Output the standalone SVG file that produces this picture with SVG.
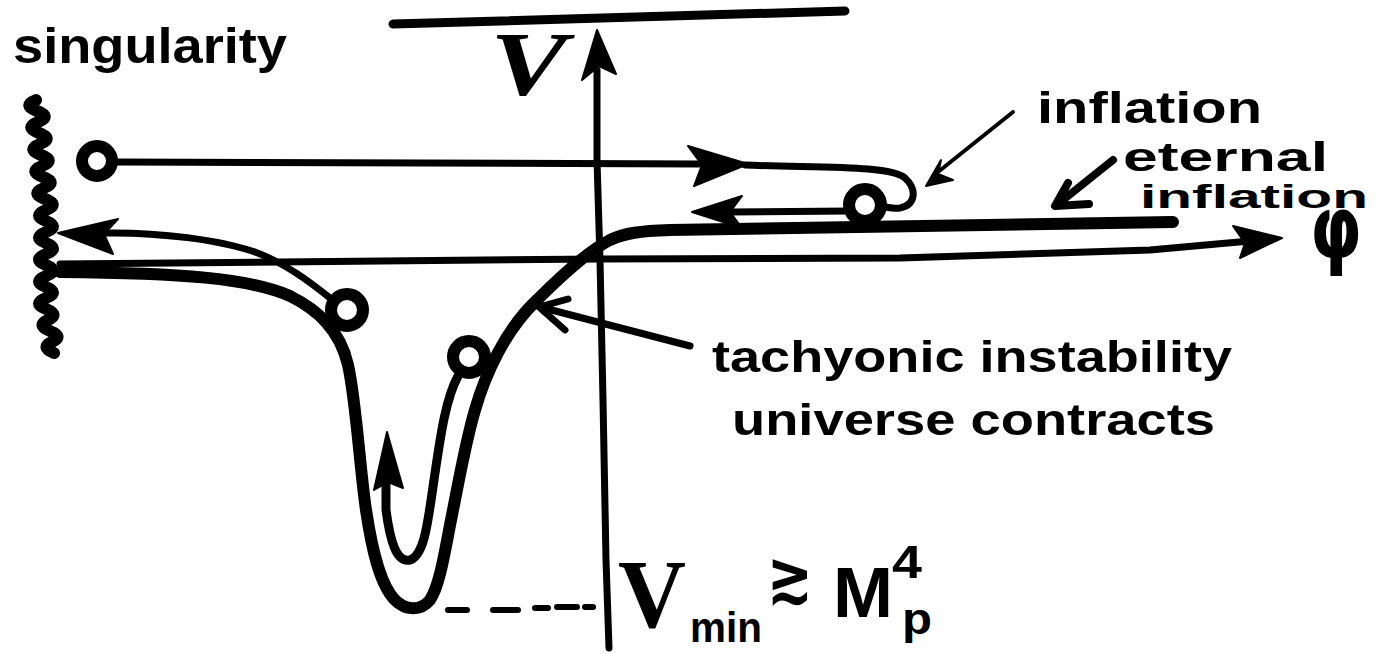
<svg xmlns="http://www.w3.org/2000/svg" width="1383" height="654" viewBox="0 0 1383 654">
<style>
.ln{fill:none;stroke:#000;stroke-linecap:round;stroke-linejoin:round}
.ax{stroke-width:7}
.thick{stroke-width:12}
.thin{stroke-width:7}
.ptr{stroke-width:4}
.head{fill:#000;stroke:#000;stroke-width:2;stroke-linejoin:round}
.ring{fill:#fff;stroke:#000;stroke-width:12}
.hand{font-family:"Liberation Sans",Arial,sans-serif;font-weight:bold;fill:#000}
.serif{font-family:"Liberation Serif","Times New Roman",serif;font-weight:bold;fill:#000}
.sym{font-family:"DejaVu Sans",sans-serif;font-weight:bold;fill:#000}
</style>
<rect width="1383" height="654" fill="#fff"/>

<g id="axes">
  <path class="ln" d="M393,24 Q600,18 845,11" stroke-width="9"/>
  <path class="ln ax" d="M597,70 L597,160 L600,260 L603,400 L606,560 L609,648"/>
  <path class="head" d="M597,30 L616,74 L599,66 L582,80 Z"/>
  <path class="ln ax" d="M60,264 L600,259 L900,258 L1150,250 L1250,241"/>
  <path class="head" d="M1282,238 L1233,226 L1245,243 L1240,258 Z"/>
</g>

<g id="singularity-wall">
  <path class="ln" stroke-width="12" d="M36,100 q-14,5.5 1,11 t1,11 t1,11 t1,11 t1,11 t1,11 t1,11 t1,11 t1,11 t1,11 t0,11 t0,11 t0,11 t0,11 t0,11 t0,11 t0,11 t0,11 t0,11 t2,11 t2,11 t2,11 t2,11"/>
</g>

<g id="potential">
  <path class="ln thick" d="M60,272 C180,273 250,278 290,296 C318,310 340,330 348,365 C356,400 360,470 366,510 C372,550 380,585 395,600 C405,610 420,612 430,600 C440,585 445,550 452,515 C460,475 466,440 475,410 C485,375 505,330 537,300 C565,272 590,250 610,240 C625,233 640,231 670,230 L1173,222"/>
  <path class="ln" stroke-width="6" d="M448,610 L467,610 M493,610 L518,610 M535,608 L548,608 M557,607 L577,607 M585,607 L593,607"/>
</g>

<g id="connectors">
  <path class="ln thin" d="M117,162 L700,164"/>
  <path class="head" d="M748,164 L688,146 L702,165 L694,186 Z"/>
  <path class="ln thin" d="M745,165 C820,168 890,165 905,178 C918,190 915,205 900,208 C893,209 885,207 880,205"/>
  <path class="ln thin" d="M850,211 L730,212"/>
  <path class="head" d="M692,212 L742,196 L730,212 L742,228 Z"/>
  <path class="ln thin" d="M104,233 C160,232 220,240 255,252 C285,263 310,282 330,298"/>
  <path class="head" d="M58,233 L118,219 L104,234 L113,254 Z"/>
  <path class="ln" stroke-width="9" d="M458,376 C445,400 440,440 434,480 C428,520 425,555 410,560 C396,563 390,540 386,510 L386,485"/>
  <path class="head" d="M387,432 L374,490 L388,482 L403,488 Z"/>
  <path class="ln" stroke-width="7" d="M690,346 L540,307 M568,299 L539,307 L565,330"/>
  <path class="ln ptr" d="M1013,112 L938,172"/>
  <path class="head" d="M926,186 L941,160 L938,174 L953,180 Z"/>
  <path class="ln" stroke-width="8" d="M1113,160 L1058,204 M1068,183 L1055,206 L1089,204"/>
</g>

<g id="balls">
  <circle class="ring" cx="97" cy="161" r="15"/>
  <circle class="ring" cx="347" cy="310" r="16"/>
  <circle class="ring" cx="469" cy="357" r="16"/>
  <circle class="ring" cx="865" cy="205" r="16" stroke-width="14"/>
</g>

<g id="label-singularity"><text class="hand" x="13" y="63" font-size="50" textLength="274" lengthAdjust="spacingAndGlyphs">singularity</text></g>
<g id="label-V"><text class="serif" x="490" y="95" font-size="90" font-style="italic" textLength="77" lengthAdjust="spacingAndGlyphs">V</text></g>
<g id="label-phi"><text class="sym" x="1310" y="258" font-size="88" textLength="52" lengthAdjust="spacingAndGlyphs">φ</text></g>
<g id="label-inflation"><text class="hand" x="1037" y="123" font-size="44" textLength="225" lengthAdjust="spacingAndGlyphs">inflation</text></g>
<g id="label-eternal">
  <text class="hand" x="1123" y="171" font-size="40" textLength="205" lengthAdjust="spacingAndGlyphs">eternal</text>
  <text class="hand" x="1140" y="208" font-size="34" textLength="228" lengthAdjust="spacingAndGlyphs">inflation</text>
</g>
<g id="label-tachyonic">
  <text class="hand" x="712" y="372" font-size="44" textLength="520" lengthAdjust="spacingAndGlyphs">tachyonic instability</text>
  <text class="hand" x="732" y="435" font-size="44" textLength="483" lengthAdjust="spacingAndGlyphs">universe contracts</text>
</g>
<g id="label-vmin">
  <text class="serif" x="618" y="627" font-size="98" textLength="68" lengthAdjust="spacingAndGlyphs">V</text>
  <text class="hand" x="690" y="642" font-size="42" textLength="72" lengthAdjust="spacingAndGlyphs">min</text>
  <text class="sym" x="767" y="600" font-size="70" textLength="46" lengthAdjust="spacingAndGlyphs">≳</text>
  <text class="hand" x="833" y="617" font-size="70" textLength="60" lengthAdjust="spacingAndGlyphs">M</text>
  <text class="hand" x="892" y="578" font-size="46" textLength="30" lengthAdjust="spacingAndGlyphs">4</text>
  <text class="hand" x="902" y="634" font-size="44" textLength="30" lengthAdjust="spacingAndGlyphs">p</text>
</g>
</svg>
